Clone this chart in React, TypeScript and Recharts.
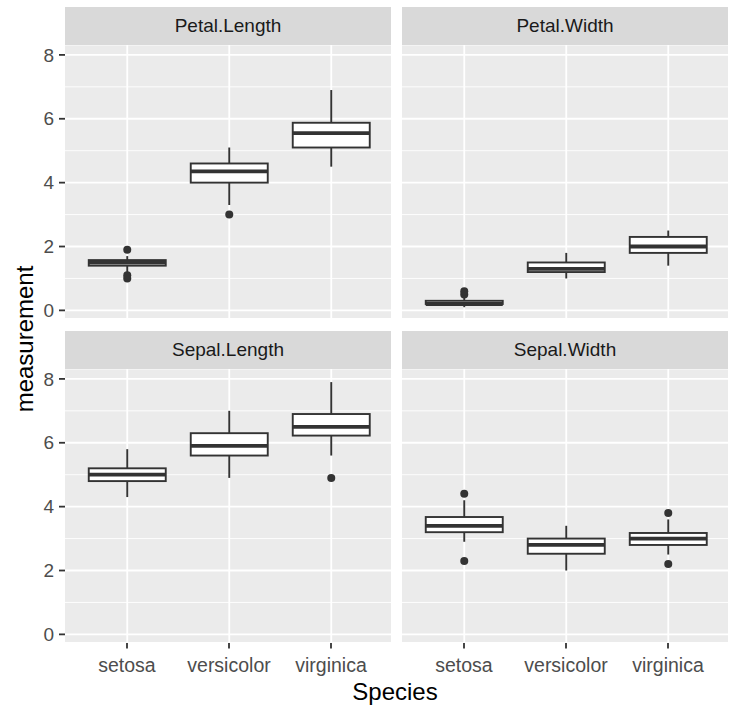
import { Bar, CartesianGrid, ComposedChart, XAxis, YAxis } from 'recharts'

const SPECIES = ['setosa', 'versicolor', 'virginica']
const Y_TICKS = [0, 1, 2, 3, 4, 5, 6, 7, 8]

// per species: [lower whisker, q1, median, q3, upper whisker]
const petalLengthStats = [
  [1.2, 1.4, 1.5, 1.575, 1.7],
  [3.3, 4.0, 4.35, 4.6, 5.1],
  [4.5, 5.1, 5.55, 5.875, 6.9],
]
const petalLengthOutliers = [[1.0, 1.1, 1.9], [3.0], []]

const petalWidthStats = [
  [0.1, 0.2, 0.2, 0.3, 0.4],
  [1.0, 1.2, 1.3, 1.5, 1.8],
  [1.4, 1.8, 2.0, 2.3, 2.5],
]
const petalWidthOutliers = [[0.5, 0.6], [], []]

const sepalLengthStats = [
  [4.3, 4.8, 5.0, 5.2, 5.8],
  [4.9, 5.6, 5.9, 6.3, 7.0],
  [5.6, 6.225, 6.5, 6.9, 7.9],
]
const sepalLengthOutliers = [[], [], [4.9]]

const sepalWidthStats = [
  [2.9, 3.2, 3.4, 3.675, 4.2],
  [2.0, 2.525, 2.8, 3.0, 3.4],
  [2.5, 2.8, 3.0, 3.175, 3.6],
]
const sepalWidthOutliers = [[2.3, 4.4], [], [2.2, 3.8]]

const FONT = '"Liberation Sans", Arial, sans-serif'
const INK = '#333333'

const PANEL_W = 326
const PANEL_H = 274
const YAXIS_W = 50
const XAXIS_H = 40
const STRIP_H = 38
const TOP_PAD = 8

function buildRows(stats: number[][], outliers: number[][]) {
  return SPECIES.map((species, i) => ({
    species,
    low: stats[i][0],
    q1: stats[i][1],
    median: stats[i][2],
    q3: stats[i][3],
    high: stats[i][4],
    range: [stats[i][0], stats[i][4]],
    outliers: outliers[i],
  }))
}

function BoxShape(props: any) {
  const { x, y, width, height, payload } = props
  const { low, q1, median, q3, high, outliers } = payload
  const top = Math.min(y, y + height)
  const h = Math.abs(height)
  const toY = (v: number) => top + ((high - v) / (high - low)) * h
  const cx = x + width / 2
  return (
    <g>
      <line x1={cx} x2={cx} y1={toY(high)} y2={toY(q3)} stroke={INK} strokeWidth={1.9} />
      <line x1={cx} x2={cx} y1={toY(q1)} y2={toY(low)} stroke={INK} strokeWidth={1.9} />
      <rect x={x} y={toY(q3)} width={width} height={toY(q1) - toY(q3)} fill="#ffffff" stroke={INK} strokeWidth={1.9} />
      <line x1={x} x2={x + width} y1={toY(median)} y2={toY(median)} stroke={INK} strokeWidth={3.8} />
      {outliers.map((v: number, i: number) => (
        <circle key={i} cx={cx} cy={toY(v)} r={4} fill={INK} />
      ))}
    </g>
  )
}

function VerticalGrid(props: any) {
  const { x, y, width, height } = props
  const cx = x + width / 2
  return <line x1={cx} x2={cx} y1={y} y2={y + height} stroke="#ffffff" strokeWidth={1.8} />
}

function HorizontalGridLine(props: any) {
  return (
    <line
      key={props.key}
      x1={props.x1}
      x2={props.x2}
      y1={props.y1}
      y2={props.y2}
      stroke="#ffffff"
      strokeWidth={props.index % 2 === 0 ? 1.8 : 0.9}
    />
  )
}

function YTick(props: any) {
  const { x, y, payload } = props
  if (payload.value % 2 !== 0) return <g />
  return (
    <g>
      <line x1={x - 6} x2={x} y1={y} y2={y} stroke={INK} strokeWidth={1.8} />
      <text x={x - 11} y={y} dy="0.35em" textAnchor="end" fill="#4D4D4D" fontSize={19} fontFamily={FONT}>
        {payload.value}
      </text>
    </g>
  )
}

function XTick(props: any) {
  const { x, y, payload } = props
  return (
    <g>
      <line x1={x} x2={x} y1={y} y2={y + 5.5} stroke={INK} strokeWidth={1.8} />
      <text x={x} y={y + 29} textAnchor="middle" fill="#4D4D4D" fontSize={19.5} fontFamily={FONT}>
        {payload.value}
      </text>
    </g>
  )
}

function Panel({ title, rows, left, top, showX, showY }: any) {
  const yw = showY ? YAXIS_W : 0
  const bottomPad = showX ? 0 : TOP_PAD
  return (
    <>
      <div
        style={{
          position: 'absolute',
          left,
          top: top - STRIP_H,
          width: PANEL_W,
          height: STRIP_H,
          background: '#D9D9D9',
          color: '#1A1A1A',
          fontFamily: FONT,
          fontSize: 19,
          lineHeight: `${STRIP_H}px`,
          textAlign: 'center',
        }}
      >
        {title}
      </div>
      <div style={{ position: 'absolute', left: left - yw, top }}>
        <ComposedChart
          width={PANEL_W + yw}
          height={PANEL_H + (showX ? XAXIS_H : 0) + bottomPad}
          data={rows}
          margin={{ top: 0, right: 0, bottom: bottomPad, left: 0 }}
          barCategoryGap="12.5%"
        >
          <CartesianGrid fill="#EBEBEB" fillOpacity={1} stroke="#ffffff" vertical={false} horizontal={HorizontalGridLine} />
          <XAxis
            dataKey="species"
            type="category"
            padding={{ left: 11, right: 9 }}
            hide={!showX}
            height={XAXIS_H}
            interval={0}
            axisLine={false}
            tickLine={false}
            tickSize={0}
            tickMargin={0}
            tick={XTick}
          />
          <YAxis
            type="number"
            domain={[-0.27, 8.31]}
            ticks={Y_TICKS}
            allowDataOverflow
            hide={!showY}
            width={YAXIS_W}
            interval={0}
            axisLine={false}
            tickLine={false}
            tickSize={0}
            tickMargin={0}
            tick={YTick}
          />
          <Bar dataKey="range" isAnimationActive={false} shape={BoxShape} background={VerticalGrid} />
        </ComposedChart>
      </div>
    </>
  )
}

export default function App() {
  return (
    <div style={{ position: 'absolute', left: 0, top: 0, width: 730, height: 710, background: '#ffffff' }}>
      <Panel title="Petal.Length" rows={buildRows(petalLengthStats, petalLengthOutliers)} left={65} top={45} showY />
      <Panel title="Petal.Width" rows={buildRows(petalWidthStats, petalWidthOutliers)} left={402} top={45} />
      <Panel title="Sepal.Length" rows={buildRows(sepalLengthStats, sepalLengthOutliers)} left={65} top={369} showX showY />
      <Panel title="Sepal.Width" rows={buildRows(sepalWidthStats, sepalWidthOutliers)} left={402} top={369} showX />
      <svg width={730} height={710} style={{ position: 'absolute', left: 0, top: 0, pointerEvents: 'none' }}>
        <text x={395} y={700} textAnchor="middle" fontSize={24} fontFamily={FONT} fill="#000000">
          Species
        </text>
        <text transform="translate(33,339) rotate(-90)" textAnchor="middle" fontSize={24} fontFamily={FONT} fill="#000000">
          measurement
        </text>
      </svg>
    </div>
  )
}
